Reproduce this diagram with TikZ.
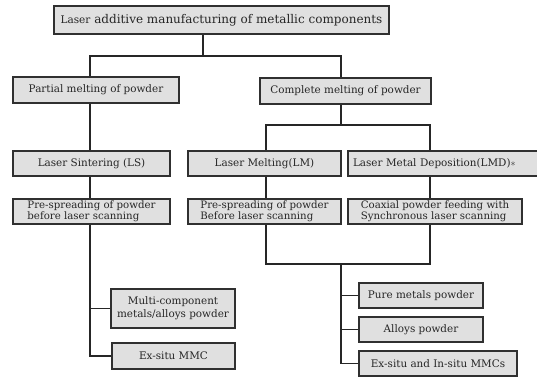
\documentclass[tikz,border=0pt]{standalone}
\usepackage{fontspec}
\setmainfont{DejaVu Serif}
\usepackage{tikz}
\definecolor{boxfill}{HTML}{E0E0E0}
\definecolor{boxline}{HTML}{303030}
\tikzset{box/.style={draw=boxline,line width=1.1pt,fill=boxfill,inner sep=2pt,
           font=\fontsize{10.4}{13}\selectfont,text=black!85},
         twoline/.style={box,inner ysep=1pt,font=\fontsize{10.2}{10.5}\selectfont},
         conn/.style={draw=black!85,line width=1.1pt}}
\begin{document}
\begin{tikzpicture}[x=1pt,y=-1pt]
\useasboundingbox (0,0) rectangle (537,378);
\node[box,minimum width=335,minimum height=28,font=\fontsize{12}{14}\selectfont](top) at (221.5,20)
  {{\fontsize{10.5}{12}\selectfont Laser} additive manufacturing of metallic components};
\node[box,minimum width=166,minimum height=26](partial) at (96,90){Partial melting of powder};
\node[box,minimum width=171,minimum height=26](complete) at (345.5,91){Complete melting of powder};
\node[box,minimum width=157,minimum height=25](ls) at (91.5,163.5){Laser Sintering (LS)};
\node[box,minimum width=153,minimum height=25](lm) at (264.5,163.5){Laser Melting(LM)};
\node[box,minimum width=192,minimum height=25,text width=182](lmd) at (444,163.5)
  {Laser Metal Deposition(LMD)$\ast$};
\node[twoline,minimum width=157,minimum height=25,align=left](lspre) at (91.5,211.5)
  {Pre-spreading of powder\\before laser scanning};
\node[twoline,minimum width=153,minimum height=25,align=left](lmpre) at (264.5,211.5)
  {Pre-spreading of powder\\Before laser scanning};
\node[twoline,minimum width=174,minimum height=25,align=left](lmdpre) at (435,211.5)
  {Coaxial powder feeding with\\Synchronous laser scanning};
\node[box,minimum width=124,minimum height=39,align=center](multi) at (173,308.5)
  {Multi-component\\metals/alloys powder};
\node[box,minimum width=123,minimum height=26](exmmc) at (173.5,356){Ex-situ MMC};
\node[box,minimum width=124,minimum height=25](pure) at (421,295.5){Pure metals powder};
\node[box,minimum width=124,minimum height=25](alloys) at (421,329.5){Alloys powder};
\node[box,minimum width=158,minimum height=25](exin) at (438,363.5){Ex-situ and In-situ MMCs};
\coordinate (jtop) at (203,56);
\coordinate (xL) at (90,0);
\coordinate (jmid) at (341,125);
\coordinate (xLM) at (266,0);
\coordinate (xLMD) at (430,0);
\coordinate (jlow) at (341,264);
\draw[conn] (top.south -| jtop) -- (jtop) -| (partial.north -| xL);
\draw[conn] (jtop) -| (complete.north -| jmid);
\draw[conn] (partial.south -| xL) -- (ls.north -| xL);
\draw[conn] (ls.south -| xL) -- (lspre.north -| xL);
\draw[conn] (lspre.south -| xL) |- (multi.west);
\draw[conn] (lspre.south -| xL) |- (exmmc.west);
\draw[conn] (complete.south -| jmid) -- (jmid);
\draw[conn] (jmid) -| (lm.north -| xLM);
\draw[conn] (jmid) -| (lmd.north -| xLMD);
\draw[conn] (lm.south -| xLM) -- (lmpre.north -| xLM);
\draw[conn] (lmd.south -| xLMD) -- (lmdpre.north -| xLMD);
\draw[conn] (lmpre.south -| xLM) |- (jlow) -| (lmdpre.south -| xLMD);
\draw[conn] (jlow) |- (pure.west);
\draw[conn] (jlow) |- (alloys.west);
\draw[conn] (jlow) |- (exin.west);
\end{tikzpicture}
\end{document}
